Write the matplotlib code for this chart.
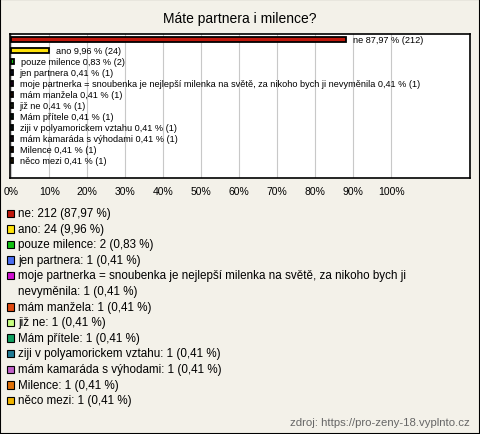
import matplotlib
matplotlib.use('Agg')
import matplotlib.pyplot as plt
from matplotlib.patches import Rectangle

# ---------------- data ----------------
title = 'Máte partnera i milence?'
categories = ['ne', 'ano', 'pouze milence', 'jen partnera',
              'moje partnerka = snoubenka je nejlepší milenka na světě, za nikoho bych ji nevyměnila',
              'mám manžela', 'již ne', 'Mám přítele', 'ziji v polyamorickem vztahu',
              'mám kamaráda s výhodami', 'Milence', 'něco mezi']
counts = [212, 24, 2, 1, 1, 1, 1, 1, 1, 1, 1, 1]
percents = [87.97, 9.96, 0.83, 0.41, 0.41, 0.41, 0.41, 0.41, 0.41, 0.41, 0.41, 0.41]
colors = ['#c0180c', '#ffe20a', '#10c010', '#4a6cf0', '#d010d0', '#e04a10',
          '#c8ff80', '#10a060', '#207a94', '#c060c8', '#e07008', '#f0b400']
legend_names = categories[:4] + ['moje partnerka = snoubenka je nejlepší milenka na světě, za nikoho bych ji\nnevyměnila'] + categories[5:]
ticks = list(range(0, 101, 10))
source = 'zdroj: https://pro-zeny-18.vyplnto.cz'

plt.rcParams['font.family'] = ['Liberation Sans', 'DejaVu Sans']

W, H = 480, 435
bg = '#f3f1e9'
fig = plt.figure(figsize=(W / 100, H / 100), dpi=100, facecolor=bg)

def fx(x):
    return x / W

def fy(y):
    return 1 - y / H

# figure border
fig.patches.append(Rectangle((0, 0), 1, 1, transform=fig.transFigure,
                             facecolor='none', edgecolor='black', lw=1.5))

fig.text(0.5, fy(19), title, ha='center', va='center', fontsize=10)

# ---------------- bar chart ----------------
ax = fig.add_axes([fx(10), fy(179), fx(460), 144 / H])
ax.set_facecolor('white')
y = list(range(len(categories)))
ax.barh(y, percents, height=0.45, color=colors, edgecolor='black', lw=1.3, zorder=3)
for yi, name, p, c in zip(y, categories, percents, counts):
    lbl = f'{name} {p:.2f} % ({c})'.replace('.', ',')
    ax.annotate(lbl, (p, yi), xytext=(5, 0), textcoords='offset points',
                va='center', ha='left', fontsize=6.6, zorder=4)
ax.set_xlim(-0.3, 120.7)
ax.set_ylim(12.6, -0.5)
ax.set_yticks([])
ax.set_xticks(ticks)
ax.set_xticklabels([f'{t}%' for t in ticks], fontsize=7.5)
ax.tick_params(axis='x', length=0, pad=6)
ax.grid(axis='x', color='#c8c8c8', lw=0.8, zorder=0)
for s in ax.spines.values():
    s.set_linewidth(1.2)

# ---------------- legend ----------------
ly = 214
step = 15.6
for name, p, c, col in zip(legend_names, percents, counts, colors):
    fig.patches.append(Rectangle((fx(6.5), fy(ly + 4)), fx(7.5), 7.5 / H, transform=fig.transFigure,
                                 facecolor=col, edgecolor='black', lw=0.8))
    txt = f'{name}: {c} ({p:.2f} %)'.replace('.', ',')
    for line in txt.split('\n'):
        fig.text(fx(18.5), fy(ly), line, ha='left', va='center', fontsize=8.4)
        ly += step

fig.text(fx(470), fy(423), source, ha='right', va='center', fontsize=8.2, color='#666666')

fig.savefig('out.png', dpi=100, facecolor=bg)
